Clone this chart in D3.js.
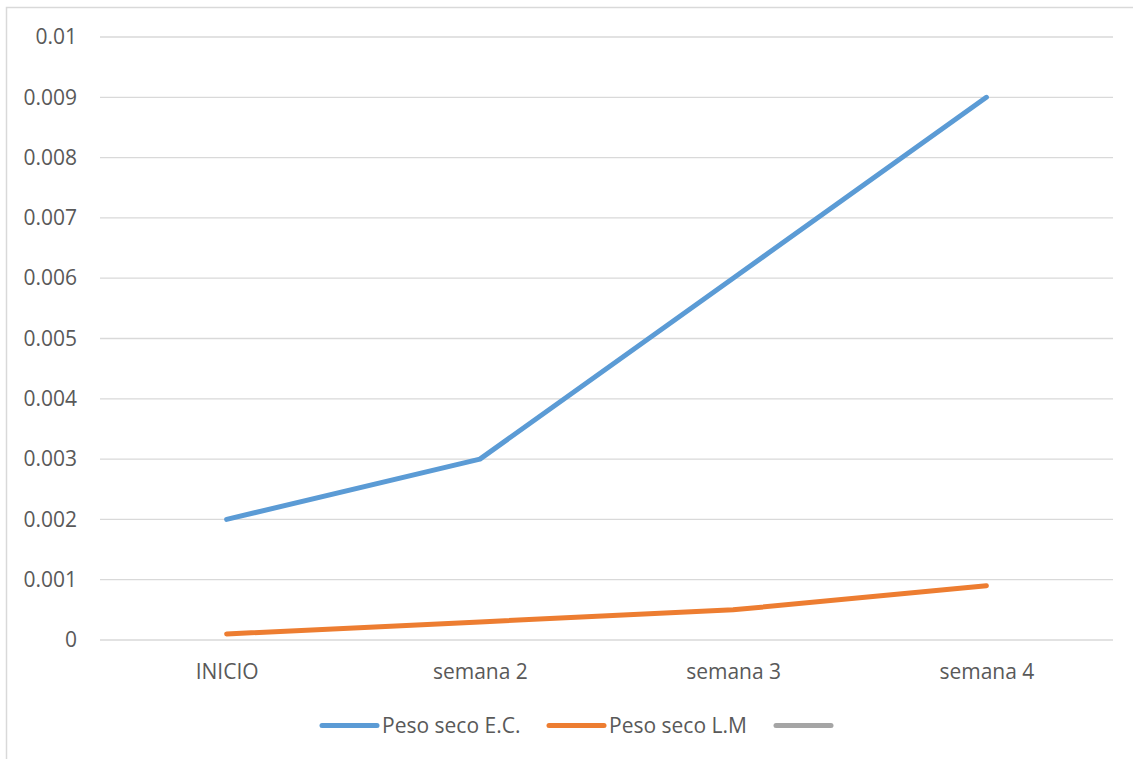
<!DOCTYPE html>
<html>
<head>
<meta charset="utf-8">
<script src="https://cdn.jsdelivr.net/npm/d3@7"></script>
<style>
  html, body { margin: 0; padding: 0; background: #fff; }
  svg { display: block; }
</style>
</head>
<body>
<svg id="chart" width="1133" height="759"></svg>
<script>
// Dry weight per sampling week
const categories = ["INICIO", "semana 2", "semana 3", "semana 4"];
const pesoSecoEC = [0.002, 0.003, 0.006, 0.009];
const pesoSecoLM = [0.0001, 0.0003, 0.0005, 0.0009];
const yTicks = [0, 0.001, 0.002, 0.003, 0.004, 0.005, 0.006, 0.007, 0.008, 0.009, 0.01];
const seriesNames = ["Peso seco E.C.", "Peso seco L.M", ""];
const seriesColors = ["#5B9BD5", "#ED7D31", "#A5A5A5"];

const font = "'Open Sans', sans-serif";
const fontSize = 21;
const textColor = "#595959";

const svg = d3.select("#chart");

// chart frame
svg.append("rect")
  .attr("x", 6.5).attr("y", 7.5)
  .attr("width", 1140).attr("height", 760)
  .attr("fill", "none").attr("stroke", "#D9D9D9").attr("stroke-width", 1.5);

const plot = { left: 100, right: 1113, top: 37, bottom: 640 };

const x = d3.scalePoint()
  .domain(categories)
  .range([plot.left, plot.right])
  .padding(0.5);

const y = d3.scaleLinear()
  .domain([0, 0.01])
  .range([plot.bottom, plot.top]);

// horizontal gridlines
svg.append("g")
  .selectAll("line")
  .data(yTicks)
  .join("line")
  .attr("x1", plot.left).attr("x2", plot.right)
  .attr("y1", d => y(d)).attr("y2", d => y(d))
  .attr("stroke", "#D9D9D9").attr("stroke-width", 1.3);

// y axis labels
const yAxis = d3.axisLeft(y)
  .tickValues(yTicks)
  .tickFormat(d => d3.format("~g")(+d.toFixed(4)))
  .tickSize(0)
  .tickPadding(0);
const yG = svg.append("g")
  .attr("transform", `translate(${plot.left - 23},0)`)
  .call(yAxis);
yG.select(".domain").remove();
yG.selectAll("text")
  .attr("font-family", font).attr("font-size", fontSize)
  .attr("fill", textColor);

// x axis labels
const xAxis = d3.axisBottom(x).tickSize(0).tickPadding(0);
const xG = svg.append("g")
  .attr("transform", `translate(0,${plot.bottom + 24})`)
  .call(xAxis);
xG.select(".domain").remove();
xG.selectAll("text")
  .attr("font-family", font).attr("font-size", fontSize)
  .attr("fill", textColor);

// series lines
const line = d3.line()
  .x((d, i) => x(categories[i]))
  .y(d => y(d));

[pesoSecoEC, pesoSecoLM].forEach((vals, k) => {
  svg.append("path")
    .datum(vals)
    .attr("d", line)
    .attr("fill", "none")
    .attr("stroke", seriesColors[k])
    .attr("stroke-width", 5)
    .attr("stroke-linecap", "round")
    .attr("stroke-linejoin", "round");
});

// legend
const legendX = [322, 549, 776];
const legendY = 725.5;
const lg = svg.append("g");
seriesNames.forEach((name, i) => {
  lg.append("line")
    .attr("x1", legendX[i]).attr("x2", legendX[i] + 55)
    .attr("y1", legendY).attr("y2", legendY)
    .attr("stroke", seriesColors[i])
    .attr("stroke-width", 5)
    .attr("stroke-linecap", "round");
  if (name) {
    lg.append("text")
      .attr("x", legendX[i] + 60).attr("y", legendY)
      .attr("dy", "0.35em")
      .attr("font-family", font).attr("font-size", fontSize)
      .attr("fill", textColor)
      .text(name);
  }
});
</script>
</body>
</html>
